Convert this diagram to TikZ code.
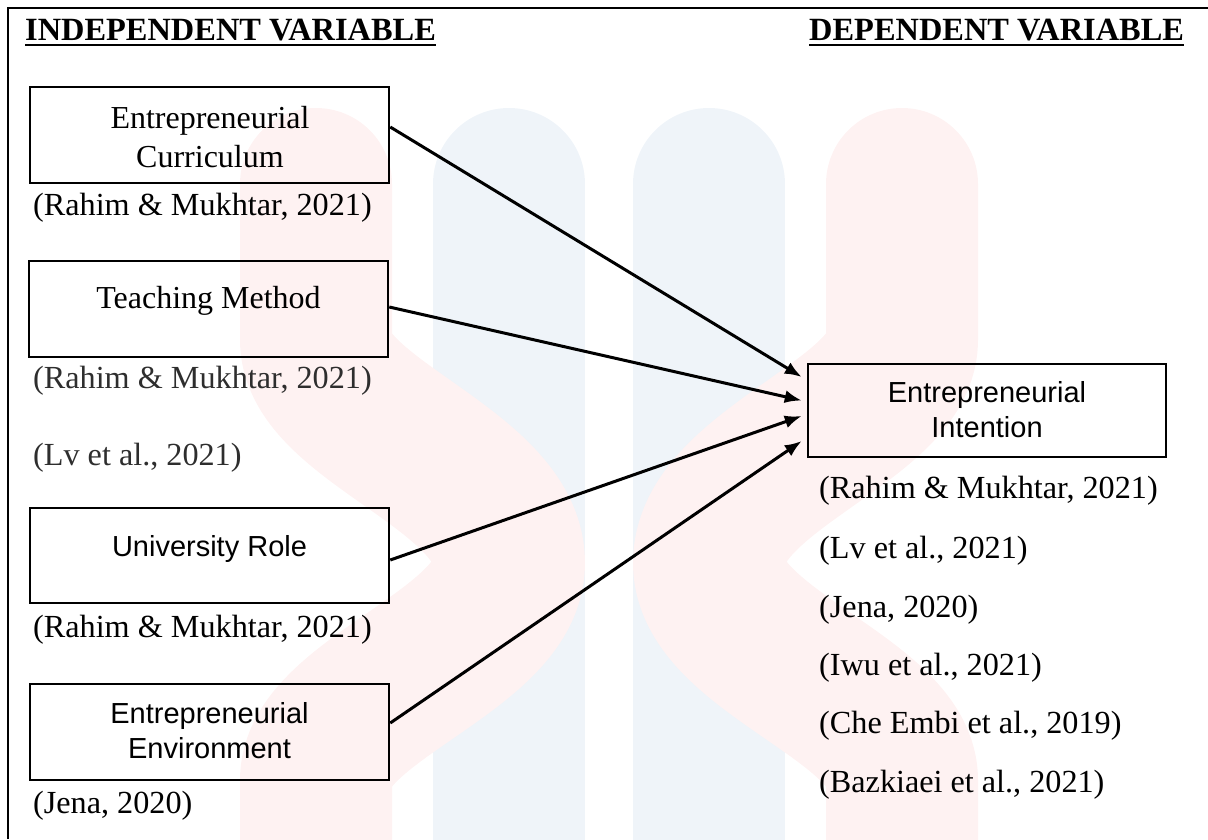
\documentclass[tikz,border=0pt]{standalone}
\usepackage{fontspec}
\setmainfont{Liberation Serif}
\newfontfamily\arialf{Liberation Sans}
\usetikzlibrary{arrows.meta}
\definecolor{wmpink}{RGB}{254,242,242}
\definecolor{wmblue}{RGB}{239,244,249}
\begin{document}
\begin{tikzpicture}[x=1pt,y=-1pt,
  varbox/.style={draw=black, line width=2.5pt, minimum width=359pt, minimum height=96pt, inner sep=0pt},
  tnr/.style={font=\fontsize{32}{39}\selectfont, inner sep=0pt, anchor=base},
  ari/.style={font=\arialf\fontsize{29}{35}\selectfont, inner sep=0pt, anchor=base},
  cite/.style={font=\fontsize{32.2}{39}\selectfont, inner sep=0pt, anchor=base west},
  head/.style={font=\bfseries\fontsize{32.4}{38}\selectfont, inner sep=0pt, anchor=base west},
  arr/.style={line width=3pt, -{Latex[length=17pt,width=13pt]}},
  bluecol/.style={line width=152pt, line cap=round, draw=wmblue},
  pinkband/.style={line width=152pt, line cap=round, line join=round, draw=wmpink}
]
\useasboundingbox (0,0) rectangle (1208,839);
% watermark
\begin{scope}
  \clip (0,0) rectangle (1208,839);
  \draw[bluecol] (509,184) -- (509,950);
  \draw[bluecol] (709,184) -- (709,950);
  \draw[pinkband] (316,184) -- (316,340) .. controls (316,420) and (509,470) .. (509,563) .. controls (509,650) and (316,700) .. (316,780) -- (316,950);
  \draw[pinkband] (902,184) -- (902,340) .. controls (902,420) and (709,470) .. (709,563) .. controls (709,650) and (902,700) .. (902,780) -- (902,950);
\end{scope}
% frame
\draw[line width=2pt] (8,839) -- (8,8.3) -- (1208,8.3);
% headings
\node[head] (h1) at (25,40) {INDEPENDENT VARIABLE};
\draw[line width=2.8pt] ([yshift=-5pt]h1.base west) -- ([yshift=-5pt]h1.base east);
\node[head] (h2) at (809,40) {DEPENDENT VARIABLE};
\draw[line width=2.8pt] ([yshift=-5pt]h2.base west) -- ([yshift=-5pt]h2.base east);
% boxes
\node[varbox] (b1) at (209.5,135) {};
\node[varbox] (b2) at (208.5,309) {};
\node[varbox, minimum height=95pt] (b3) at (209.5,555.5) {};
\node[varbox] (b4) at (209.5,732) {};
\node[varbox, minimum width=358pt, minimum height=93pt] (t) at (987,410.5) {};
% box texts
\node[tnr] (c1a) at (210,128) {Entrepreneurial};
\node[tnr] (c1b) at (210,167) {Curriculum};
\node[tnr] (c2) at (208.5,308) {Teaching Method};
\node[ari] (c3) at (209.5,556) {University Role};
\node[ari] (c4a) at (209.5,723) {Entrepreneurial};
\node[ari] (c4b) at (209.5,758) {Environment};
\node[ari] (ta) at (987,402) {Entrepreneurial};
\node[ari] (tb) at (987,437) {Intention};
% citations left
\node[cite] (r1) at (33,215) {(Rahim \& Mukhtar, 2021)};
\node[cite, text=black!82] (r2) at (33,388) {(Rahim \& Mukhtar, 2021)};
\node[cite, text=black!82] (r3) at (33,465) {(Lv et al., 2021)};
\node[cite] (r4) at (33,637) {(Rahim \& Mukhtar, 2021)};
\node[cite] (r5) at (33,813) {(Jena, 2020)};
% citations right
\node[cite] (s1) at (819,498) {(Rahim \& Mukhtar, 2021)};
\node[cite] (s2) at (819,558) {(Lv et al., 2021)};
\node[cite] (s3) at (819,617) {(Jena, 2020)};
\node[cite] (s4) at (819,675) {(Iwu et al., 2021)};
\node[cite] (s5) at (819,733) {(Che Embi et al., 2019)};
\node[cite] (s6) at (819,792) {(Bazkiaei et al., 2021)};
% arrows
\draw[arr] ([yshift=8pt]b1.east) -- ([xshift=-5pt,yshift=33.5pt]t.west);
\draw[arr] ([yshift=2pt]b2.east) -- ([xshift=-5pt,yshift=10pt]t.west);
\draw[arr] ([yshift=-4.5pt]b3.east) -- ([xshift=-5pt,yshift=-5.5pt]t.west);
\draw[arr] ([yshift=9pt]b4.east) -- ([xshift=-5pt,yshift=-30.5pt]t.west);
\end{tikzpicture}
\end{document}
